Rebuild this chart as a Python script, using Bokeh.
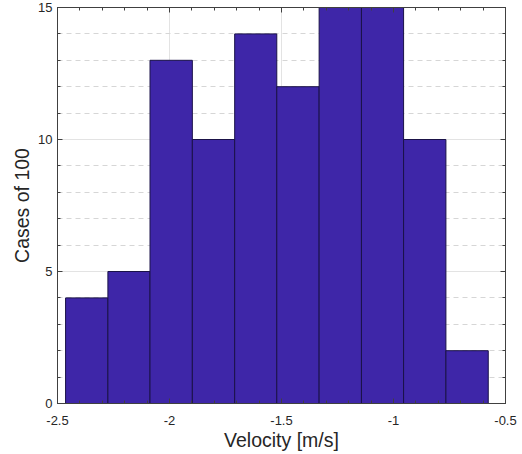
from bokeh.plotting import figure
from bokeh.models import LinearAxis, Range1d, FixedTicker, CustomJSTickFormatter
from bokeh.embed import file_html
from bokeh.resources import INLINE

# Data
bin_edges = [-2.464, -2.275, -2.087, -1.898, -1.709, -1.521, -1.332, -1.143, -0.955, -0.766, -0.577]
counts = [4, 5, 13, 10, 14, 12, 15, 15, 10, 2]
x_ticks = [-2.5, -2.0, -1.5, -1.0, -0.5]
y_ticks = [0, 5, 10, 15]
x_label = "Velocity [m/s]"
y_label = "Cases of 100"

FONT = "Liberation Sans"
AX = "#404040"
TXT = "#262626"

p = figure(width=522, height=454, output_backend="svg", toolbar_location=None,
           x_range=Range1d(-2.5, -0.5), y_range=Range1d(0, 15),
           min_border_left=57, min_border_right=17, min_border_top=7, min_border_bottom=51,
           x_axis_label=x_label, y_axis_label=y_label)
p.outline_line_color = AX
p.outline_line_width = 1
p.background_fill_color = "white"
p.border_fill_color = "white"

p.quad(left=bin_edges[:-1], right=bin_edges[1:], bottom=0, top=counts,
       fill_color="#3E26A8", line_color="#1a1248", line_width=1)

plain = CustomJSTickFormatter(code="return String(tick);")
blank = CustomJSTickFormatter(code="return '';")

def style_axis(ax, labels=True):
    ax.axis_line_color = AX
    ax.major_tick_in = 5
    ax.major_tick_out = 0
    ax.minor_tick_in = 3
    ax.minor_tick_out = 0
    ax.major_tick_line_color = AX
    ax.minor_tick_line_color = AX
    ax.major_label_text_font = FONT
    ax.major_label_text_color = TXT
    ax.major_label_text_font_size = "13px"
    ax.formatter = plain if labels else blank
    ax.axis_label_text_font = FONT
    ax.axis_label_text_font_style = "normal"
    ax.axis_label_text_color = TXT
    ax.axis_label_text_font_size = "19.5px"

xminor = [round(-2.5 + 0.1 * i, 2) for i in range(21)]
xa = p.xaxis[0]
ya = p.yaxis[0]
xa.ticker = FixedTicker(ticks=x_ticks, minor_ticks=xminor)
ya.ticker = FixedTicker(ticks=y_ticks, minor_ticks=list(range(16)))
style_axis(xa)
style_axis(ya)
xa.major_label_standoff = 12
ya.major_label_standoff = 5
xa.axis_label_standoff = 1
ya.axis_label_standoff = 2

top = LinearAxis(ticker=FixedTicker(ticks=x_ticks, minor_ticks=xminor))
right = LinearAxis(ticker=FixedTicker(ticks=y_ticks, minor_ticks=list(range(16))))
for a in (top, right):
    style_axis(a, labels=False)
    a.major_label_standoff = 0
p.add_layout(top, "above")
p.add_layout(right, "right")

p.xgrid.grid_line_color = "#e3e3e3"
p.xgrid.grid_line_width = 1
p.ygrid.grid_line_color = "#e3e3e3"
p.ygrid.minor_grid_line_color = "#d6d6d6"
p.ygrid.minor_grid_line_dash = "5 4"

open("out.html", "w").write(file_html(p, INLINE))
